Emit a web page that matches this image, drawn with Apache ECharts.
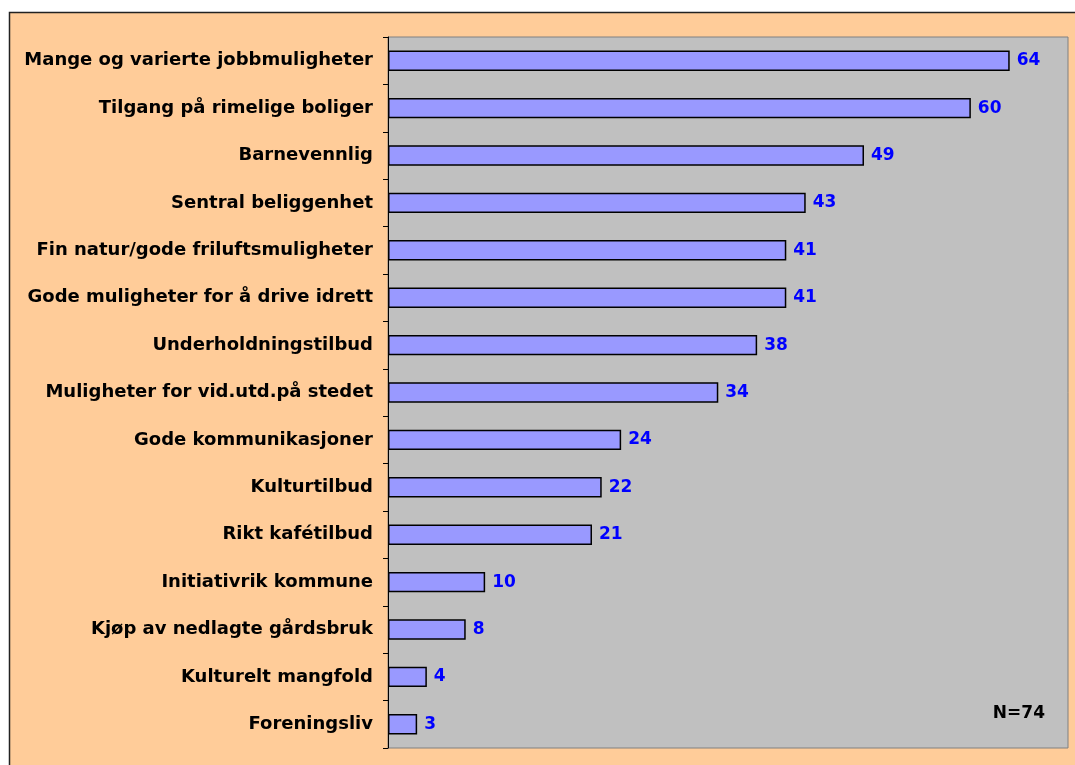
<!DOCTYPE html>
<html>
<head>
<meta charset="utf-8">
<script src="https://cdn.jsdelivr.net/npm/echarts@6/dist/echarts.min.js"></script>
<style>
  html, body { margin: 0; padding: 0; background: #fff; }
  #chart { width: 1075px; height: 765px; }
</style>
</head>
<body>
<div id="chart"></div>
<script>
// kategorier og verdier (ovenfra og ned)
const categories = [
  'Mange og varierte jobbmuligheter',
  'Tilgang på rimelige boliger',
  'Barnevennlig',
  'Sentral beliggenhet',
  'Fin natur/gode friluftsmuligheter',
  'Gode muligheter for å drive idrett',
  'Underholdningstilbud',
  'Muligheter for vid.utd.på stedet',
  'Gode kommunikasjoner',
  'Kulturtilbud',
  'Rikt kafétilbud',
  'Initiativrik kommune',
  'Kjøp av nedlagte gårdsbruk',
  'Kulturelt mangfold',
  'Foreningsliv'
];
const values = [64, 60, 49, 43, 41, 41, 38, 34, 24, 22, 21, 10, 8, 4, 3];
const noteText = 'N=74';

const font = '"DejaVu Sans", Arial, sans-serif';

const chart = echarts.init(document.getElementById('chart'));

chart.setOption({
  backgroundColor: '#ffffff',
  animation: false,
  graphic: [
    {
      type: 'rect',
      z: -10,
      shape: {x: 9.5, y: 12.5, width: 1100, height: 800},
      style: {fill: '#FFCC99', stroke: '#222', lineWidth: 1.5}
    },
    {
      type: 'text',
      right: 30,
      top: 705,
      style: {text: noteText, font: 'bold 17px ' + font, fill: '#000'}
    }
  ],
  grid: {
    left: 388,
    top: 37,
    width: 680,
    height: 711,
    show: true,
    backgroundColor: '#C0C0C0',
    borderColor: '#808080',
    borderWidth: 1
  },
  xAxis: {
    type: 'value',
    min: 0,
    max: 70,
    show: false
  },
  yAxis: {
    type: 'category',
    inverse: true,
    data: categories,
    axisLine: {lineStyle: {color: '#000', width: 1}},
    axisTick: {show: true, length: 5, lineStyle: {color: '#000'}},
    axisLabel: {
      margin: 15,
      color: '#000',
      fontFamily: font,
      fontWeight: 'bold',
      fontSize: 18
    }
  },
  series: [{
    type: 'bar',
    data: values,
    barCategoryGap: '57%',
    itemStyle: {color: '#9999FF', borderColor: '#000', borderWidth: 1.5},
    label: {
      show: true,
      position: 'right',
      distance: 7,
      color: '#0000FF',
      fontFamily: font,
      fontWeight: 'bold',
      fontSize: 17
    }
  }]
});
</script>
</body>
</html>
